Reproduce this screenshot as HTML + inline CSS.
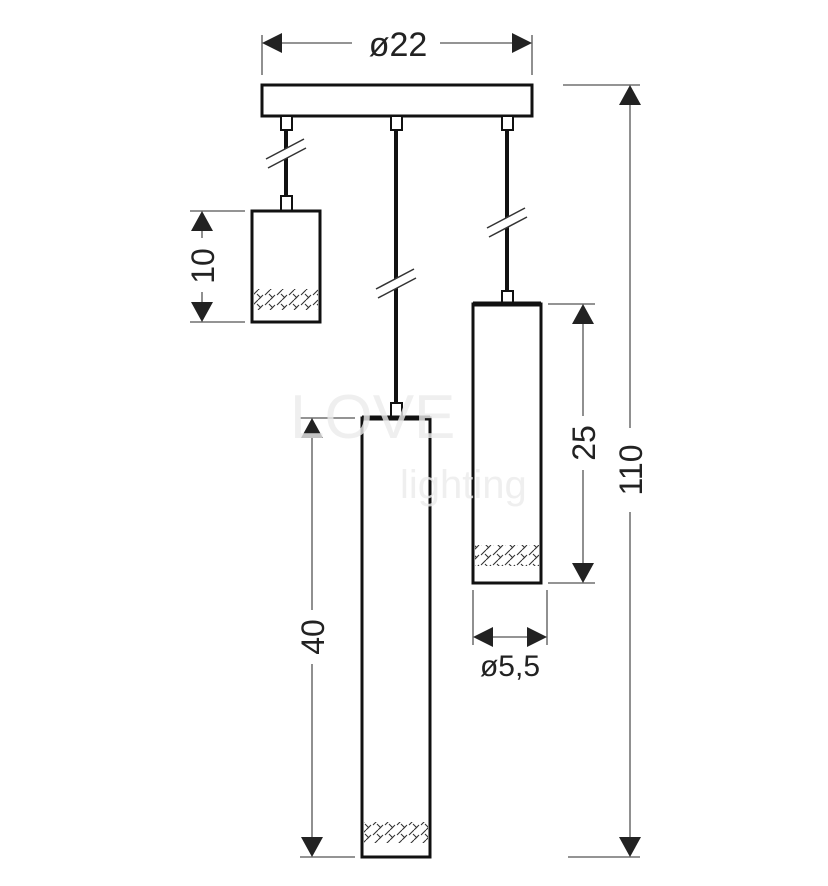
<!DOCTYPE html>
<html><head><meta charset="utf-8"><style>html,body{margin:0;padding:0;background:#fff}svg{display:block}</style></head><body>
<svg width="828" height="886" viewBox="0 0 828 886" xmlns="http://www.w3.org/2000/svg" font-family="Liberation Sans, sans-serif">
<defs>
<pattern id="hb" x="0" y="0" width="12" height="10" patternUnits="userSpaceOnUse">
<path d="M1 5 L6 0 M6 10 L11 5 M5 4 L9 8" stroke="#333" stroke-width="1.1" fill="none"/>
</pattern>
</defs>
<g stroke="#555" stroke-width="1.3" fill="none">
<line x1="262" y1="35" x2="262" y2="75"/><line x1="532" y1="35" x2="532" y2="75"/>
<line x1="280" y1="43" x2="352" y2="43"/><line x1="440" y1="43" x2="514" y2="43"/>
<line x1="563" y1="85" x2="640" y2="85"/><line x1="568" y1="857" x2="640" y2="857"/>
<line x1="630" y1="100" x2="630" y2="428"/><line x1="630" y1="512" x2="630" y2="842"/>
<line x1="190" y1="211" x2="245" y2="211"/><line x1="190" y1="322" x2="245" y2="322"/>
<line x1="202" y1="226" x2="202" y2="238"/><line x1="202" y1="292" x2="202" y2="307"/>
<line x1="300" y1="418" x2="355" y2="418"/><line x1="300" y1="857" x2="355" y2="857"/>
<line x1="312" y1="433" x2="312" y2="610"/><line x1="312" y1="664" x2="312" y2="842"/>
<line x1="548" y1="304" x2="595" y2="304"/><line x1="548" y1="583" x2="595" y2="583"/>
<line x1="583" y1="319" x2="583" y2="416"/><line x1="583" y1="470" x2="583" y2="568"/>
<line x1="473" y1="590" x2="473" y2="645"/><line x1="547" y1="590" x2="547" y2="645"/>
<line x1="488" y1="637" x2="532" y2="637"/>
</g>
<g fill="#222">
<polygon points="262,43 282,33 282,53"/><polygon points="532,43 512,33 512,53"/>
<polygon points="630,85 619,105 641,105"/><polygon points="630,857 619,837 641,837"/>
<polygon points="202,211 191,231 213,231"/><polygon points="202,322 191,302 213,302"/>
<polygon points="312,418 301,438 323,438"/><polygon points="312,857 301,837 323,837"/>
<polygon points="583,304 572,324 594,324"/><polygon points="583,583 572,563 594,563"/>
<polygon points="473,637 493,627 493,647"/><polygon points="547,637 527,627 527,647"/>
</g>
<g fill="#222" font-size="32">
<text x="398" y="56" text-anchor="middle" font-size="34">ø22</text>
<text x="510" y="676" text-anchor="middle" font-size="30">ø5,5</text>
<text transform="translate(214,266) rotate(-90)" text-anchor="middle">10</text>
<text transform="translate(324,637) rotate(-90)" text-anchor="middle">40</text>
<text transform="translate(595,443) rotate(-90)" text-anchor="middle">25</text>
<text transform="translate(642,470) rotate(-90)" text-anchor="middle">110</text>
</g>
<g stroke="#111" stroke-width="3" fill="#fff">
<rect x="262" y="85" width="270" height="31"/>
<line x1="286" y1="130" x2="286" y2="196" stroke-width="4"/>
<line x1="396" y1="130" x2="396" y2="403" stroke-width="4"/>
<line x1="507" y1="130" x2="507" y2="291" stroke-width="4"/>
<rect x="281" y="116" width="11" height="14" stroke-width="2"/>
<rect x="391" y="116" width="11" height="14" stroke-width="2"/>
<rect x="502" y="116" width="11" height="14" stroke-width="2"/>
<rect x="281" y="196" width="11" height="15" stroke-width="2"/>
<rect x="391" y="403" width="11" height="15" stroke-width="2"/>
<rect x="502" y="291" width="11" height="13" stroke-width="2"/>
<rect x="252" y="211" width="68" height="111"/>
<rect x="362" y="418" width="68" height="439"/>
<rect x="473" y="304" width="68" height="279"/>
</g>
<line x1="362" y1="418" x2="430" y2="418" stroke="#111" stroke-width="5"/>
<line x1="473" y1="304" x2="541" y2="304" stroke="#111" stroke-width="5"/>
<g stroke="none" fill="url(#hb)">
<rect x="254" y="289" width="64" height="21"/>
<rect x="364" y="822" width="64" height="21"/>
<rect x="475" y="545" width="64" height="21"/>
</g>
<g stroke="#fff" stroke-width="9">
<line x1="268" y1="163" x2="304" y2="143"/>
<line x1="378" y1="293" x2="414" y2="273"/>
<line x1="489" y1="232" x2="525" y2="212"/>
</g>
<g stroke="#333" stroke-width="1.5">
<line x1="266" y1="159" x2="304" y2="139"/><line x1="268" y1="168" x2="306" y2="148"/>
<line x1="376" y1="289" x2="414" y2="269"/><line x1="378" y1="298" x2="416" y2="278"/>
<line x1="487" y1="228" x2="525" y2="208"/><line x1="489" y1="237" x2="527" y2="217"/>
</g>
<g fill="#ececec" opacity="0.8" font-size="62">
<text x="290" y="438">LOVE</text>
<text x="400" y="498" font-size="40">lighting</text>
</g>
</svg>
</body></html>
